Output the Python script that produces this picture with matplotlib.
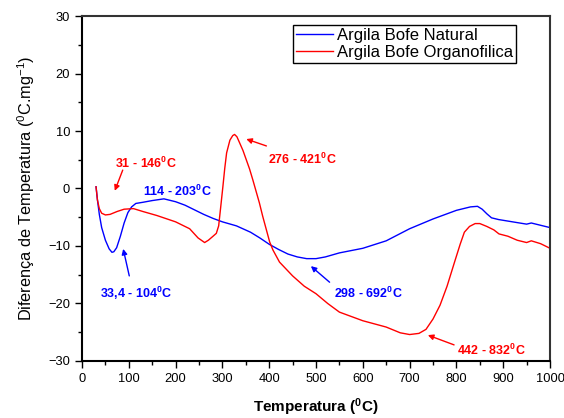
import matplotlib
matplotlib.use("Agg")
import matplotlib.pyplot as plt
from matplotlib.ticker import MultipleLocator

plt.rcParams['font.family'] = ['Liberation Sans', 'DejaVu Sans']
plt.rcParams['mathtext.fontset'] = 'custom'
plt.rcParams['mathtext.rm'] = 'Liberation Sans'
plt.rcParams['mathtext.bf'] = 'Liberation Sans:bold'

# Argila Bofe Natural (blue)
nat_x = [30, 33, 37, 42, 50, 58, 64, 68, 74, 82, 90, 98, 106, 115, 130, 150, 175, 200, 220,
         240, 260, 280, 300, 330, 360, 380, 400, 420, 440, 460, 480, 500, 520, 550, 600,
         650, 700, 750, 800, 830, 845, 855, 865, 875, 890, 920, 950, 960, 980, 1000]
nat_y = [0.3, -2.0, -4.5, -6.8, -9.0, -10.5, -11.1, -11.0, -10.3, -8.3, -6.0, -4.2, -3.2,
         -2.6, -2.4, -2.1, -1.8, -2.3, -2.9, -3.7, -4.5, -5.2, -5.8, -6.5, -7.6, -8.6,
         -9.7, -10.6, -11.4, -11.9, -12.2, -12.2, -11.9, -11.2, -10.4, -9.1, -7.0, -5.3,
         -3.8, -3.2, -3.1, -3.6, -4.4, -5.1, -5.4, -5.8, -6.2, -6.0, -6.4, -6.8]

# Argila Bofe Organofilica (red)
org_x = [30, 33, 37, 42, 50, 60, 75, 90, 110, 130, 160, 200, 230, 248, 262, 270, 280, 287,
         292, 296, 301, 305, 309, 316, 322, 326, 331, 337, 344, 351, 358, 365, 372, 379,
         386, 394, 401, 408, 422, 450, 475, 500, 525, 550, 600, 650, 680, 700, 720, 735,
         750, 765, 780, 796, 808, 817, 828, 840, 850, 865, 880, 891, 910, 930, 950, 960,
         980, 1000]
org_y = [0.3, -2.0, -3.5, -4.3, -4.6, -4.5, -4.0, -3.6, -3.5, -4.0, -4.7, -5.8, -7.0, -8.6,
         -9.4, -9.0, -8.3, -7.8, -6.5, -3.5, 0.3, 3.5, 6.2, 8.4, 9.2, 9.4, 9.0, 7.9, 6.6,
         5.0, 3.4, 1.5, -0.5, -2.5, -4.8, -7.2, -9.3, -10.7, -12.8, -15.2, -17.0, -18.3,
         -20.0, -21.5, -23.0, -24.1, -25.1, -25.4, -25.2, -24.5, -22.7, -20.3, -17.0,
         -12.8, -9.7, -7.6, -6.6, -6.1, -6.1, -6.6, -7.2, -7.9, -8.3, -9.0, -9.4, -9.1,
         -9.6, -10.4]

labels = ['Argila Bofe Natural', 'Argila Bofe Organofilica']

fig = plt.figure(figsize=(5.64, 4.18), dpi=100)
ax = fig.add_axes([0.1454, 0.1364, 0.8298, 0.8253])

ax.plot(nat_x, nat_y, color='#0000FF', lw=1.0, label=labels[0])
ax.plot(org_x, org_y, color='#FF0000', lw=1.0, label=labels[1])

ax.set_xlim(0, 1000)
ax.set_ylim(-30, 30)
ax.xaxis.set_major_locator(MultipleLocator(100))
ax.xaxis.set_minor_locator(MultipleLocator(50))
ax.yaxis.set_major_locator(MultipleLocator(10))
ax.yaxis.set_minor_locator(MultipleLocator(5))
ax.tick_params(which='both', direction='out', top=False, right=False, labelsize=9.3,
               width=1.0, colors='black')
ax.tick_params(which='major', length=5)
ax.tick_params(which='minor', length=3)
for s in ['left', 'bottom']:
    ax.spines[s].set_linewidth(1.5)
for s in ['top', 'right']:
    ax.spines[s].set_linewidth(1.5)
    ax.spines[s].set_color('#333333')

ax.set_xlabel(r'Temperatura ($\mathbf{^0}$C)', fontsize=11, fontweight='bold', labelpad=8)
ax.set_ylabel(r'Diferença de Temperatura ($^0$C.mg$^{-1}$)', fontsize=11.7, labelpad=8)

leg = ax.legend(loc='upper left', bbox_to_anchor=(0.450, 0.974), fontsize=12,
                frameon=True, fancybox=False, edgecolor='black', framealpha=1,
                handlelength=2.2, handletextpad=0.25, borderpad=0.2,
                labelspacing=0.1, borderaxespad=0)
leg.get_frame().set_linewidth(1.0)

ann = [
    (r'31 - 146$\mathbf{^0}$C', (136, 4.4), (87, 3.2), (70, -0.4), '#FF0000'),
    (r'114 - 203$\mathbf{^0}$C', (203, -0.55), None, None, '#0000FF'),
    (r'276 - 421$\mathbf{^0}$C', (470, 5.0), (394, 7.4), (351, 8.6), '#FF0000'),
    (r'33,4 - 104$\mathbf{^0}$C', (115, -18.2), (101, -15.2), (88, -10.5), '#0000FF'),
    (r'298 - 692$\mathbf{^0}$C', (612, -18.2), (529, -16.3), (489, -13.5), '#0000FF'),
    (r'442 - 832$\mathbf{^0}$C', (874, -28.2), (795, -27.2), (739, -25.5), '#FF0000'),
]
for txt, pos, tail, head, col in ann:
    ax.text(pos[0], pos[1], txt, color=col, fontsize=9, fontweight='bold',
            ha='center', va='center')
    if tail is not None:
        ax.annotate('', xy=head, xytext=tail,
                    arrowprops=dict(arrowstyle='-|>', color=col, lw=1.0,
                                    mutation_scale=8, shrinkA=0, shrinkB=0))

fig.savefig('out.png', dpi=100)
